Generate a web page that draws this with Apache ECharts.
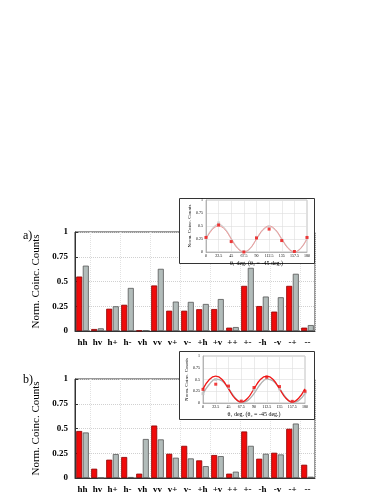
<!DOCTYPE html>
<html>
<head>
<meta charset="utf-8">
<script src="https://cdn.jsdelivr.net/npm/echarts@6/dist/echarts.min.js"></script>
<style>
  html, body { margin: 0; padding: 0; background: #fff; }
  #charts { width: 382px; height: 494px; }
</style>
</head>
<body>
<div id="charts"></div>
<script>
const categories = ["hh", "hv", "h+", "h-", "vh", "vv", "v+", "v-", "+h", "+v", "++", "+-", "-h", "-v", "-+", "--"];
const redA = [0.55, 0.02, 0.225, 0.265, 0.005, 0.46, 0.205, 0.205, 0.22, 0.222, 0.034, 0.456, 0.252, 0.196, 0.456, 0.034];
const greyA = [0.66, 0.027, 0.25, 0.435, 0.005, 0.628, 0.297, 0.294, 0.273, 0.323, 0.04, 0.638, 0.348, 0.341, 0.578, 0.06];
const redB = [0.475, 0.094, 0.185, 0.212, 0.044, 0.53, 0.245, 0.325, 0.178, 0.232, 0.044, 0.47, 0.195, 0.255, 0.497, 0.134];
const greyB = [0.46, 0, 0.242, 0.01, 0.394, 0.39, 0.205, 0.198, 0.12, 0.221, 0.064, 0.325, 0.245, 0.238, 0.55, 0.013];

const angles = [0, 22.5, 45, 67.5, 90, 112.5, 135, 157.5, 180];
const ptsRedA = [0.28, 0.52, 0.2, 0.0, 0.27, 0.44, 0.22, 0.01, 0.28];
const ptsGreyA = [0.27, 0.56, 0.21, 0.01, 0.28, 0.49, 0.23, 0.01, 0.27];
const ptsRedB = [0.29, 0.4, 0.36, 0.04, 0.33, 0.55, 0.35, 0.035, 0.25];
const ptsGreyB = [0.2, 0.5, 0.33, 0.02, 0.28, 0.52, 0.3, 0.02, 0.22];

const curveAngles = [0, 11.25, 22.5, 33.75, 45, 56.25, 67.5, 78.75, 90, 101.25, 112.5, 123.75, 135, 146.25, 157.5, 168.75, 180];
const curveRedA = [0.25, 0.43, 0.5, 0.43, 0.25, 0.07, 0, 0.07, 0.25, 0.43, 0.5, 0.43, 0.25, 0.07, 0, 0.07, 0.25];
const curveGreyA = [0.26, 0.45, 0.53, 0.45, 0.26, 0.08, 0, 0.07, 0.25, 0.42, 0.49, 0.42, 0.25, 0.08, 0, 0.07, 0.26];
const curveRedB = [0.3, 0.5, 0.57, 0.5, 0.3, 0.1, 0.02, 0.1, 0.3, 0.5, 0.57, 0.5, 0.3, 0.1, 0.02, 0.1, 0.3];
const curveGreyB = [0.2, 0.4, 0.51, 0.47, 0.31, 0.12, 0.01, 0.05, 0.2, 0.4, 0.51, 0.47, 0.31, 0.12, 0.01, 0.05, 0.2];

const serif = "'Liberation Serif', 'DejaVu Serif', serif";
const chart = echarts.init(document.getElementById("charts"));

function pairs(xs, ys) {
  return xs.map((x, i) => [x, ys[i]]);
}

function mainX(gridIndex) {
  return {
    type: "category", gridIndex: gridIndex, data: categories,
    axisLine: { lineStyle: { color: "#333" } },
    axisTick: { show: false },
    axisLabel: { color: "#000", fontFamily: serif, fontWeight: "bold", fontSize: 9, margin: 7, interval: 0 },
    splitLine: { show: true, interval: (i) => i % 2 === 1, lineStyle: { color: "#e2e2e2", type: "dotted" } }
  };
}

function mainY(gridIndex) {
  return {
    type: "value", gridIndex: gridIndex, min: 0, max: 1, interval: 0.25,
    name: "Norm. Coinc. Counts", nameLocation: "middle", nameGap: 25,
    nameTextStyle: { fontFamily: serif, fontSize: 11, color: "#000" },
    axisLine: { show: true, lineStyle: { color: "#333" } },
    axisTick: { show: true, inside: true, length: 3, lineStyle: { color: "#333" } },
    axisLabel: { color: "#000", fontFamily: serif, fontWeight: "bold", fontSize: 9, margin: 7 },
    splitLine: { lineStyle: { color: "#d0d0d0", type: "dotted" } }
  };
}

function insetX(gridIndex) {
  return {
    type: "value", gridIndex: gridIndex, min: 0, max: 180, interval: 22.5, z: 60,
    name: "θ₁ deg. (θ₂ = -45 deg.)", nameLocation: "middle", nameGap: 8,
    nameTextStyle: { fontFamily: serif, fontSize: 6, color: "#000" },
    axisLine: { lineStyle: { color: "#888", width: 0.5 } },
    axisTick: { show: false },
    axisLabel: { color: "#000", fontFamily: serif, fontSize: 4, margin: 2 },
    splitLine: { lineStyle: { color: "#ddd", width: 0.6 } }
  };
}

function insetY(gridIndex) {
  return {
    type: "value", gridIndex: gridIndex, min: 0, max: 1, interval: 0.25, z: 60,
    name: "Norm. Coinc. Counts", nameLocation: "middle", nameGap: 14,
    nameTextStyle: { fontFamily: serif, fontSize: 5, color: "#000" },
    axisLine: { show: true, lineStyle: { color: "#888", width: 0.5 } },
    axisTick: { show: false },
    axisLabel: { color: "#000", fontFamily: serif, fontSize: 4, margin: 3 },
    splitLine: { lineStyle: { color: "#ddd", width: 0.6 } }
  };
}

function bars(axisIndex, values, fill, edge) {
  return {
    type: "bar", xAxisIndex: axisIndex, yAxisIndex: axisIndex, data: values,
    barWidth: 6, barGap: "10%",
    itemStyle: { color: fill, borderColor: edge, borderWidth: 0.8 }
  };
}

function curve(axisIndex, values, color, width) {
  return {
    type: "line", xAxisIndex: axisIndex, yAxisIndex: axisIndex, z: 70,
    data: pairs(curveAngles, values), smooth: 0.4, showSymbol: false,
    lineStyle: { color: color, width: width }
  };
}

function points(axisIndex, values, color) {
  return {
    type: "scatter", xAxisIndex: axisIndex, yAxisIndex: axisIndex, z: 72,
    data: pairs(angles, values), symbol: "rect", symbolSize: 3,
    itemStyle: { color: color }
  };
}

const option = {
  animation: false,
  backgroundColor: "#fff",
  grid: [
    { left: 75, top: 232, width: 240, height: 99, show: true, borderColor: "#333", borderWidth: 1 },
    { left: 206, top: 200, width: 101, height: 52, show: true, borderColor: "#999", borderWidth: 0.6, backgroundColor: "#fff", z: 60 },
    { left: 75, top: 379, width: 240, height: 99, show: true, borderColor: "#333", borderWidth: 1 },
    { left: 203, top: 356, width: 102, height: 47, show: true, borderColor: "#999", borderWidth: 0.6, backgroundColor: "#fff", z: 60 }
  ],
  xAxis: [mainX(0), insetX(1), mainX(2), insetX(3)],
  yAxis: [mainY(0), insetY(1), mainY(2), insetY(3)],
  graphic: [
    { type: "rect", z: 50, shape: { x: 179.5, y: 198.5, width: 135, height: 65 }, style: { fill: "#fff", stroke: "#333", lineWidth: 1 } },
    { type: "rect", z: 50, shape: { x: 179.5, y: 351.5, width: 135, height: 68 }, style: { fill: "#fff", stroke: "#333", lineWidth: 1 } },
    { type: "text", left: 23, top: 230, style: { text: "a)", font: "12px " + serif, fill: "#000" } },
    { type: "text", left: 23, top: 374, style: { text: "b)", font: "12px " + serif, fill: "#000" } }
  ],
  series: [
    bars(0, redA, "#f00a0a", "#8a0000"),
    bars(0, greyA, "#b2bcba", "#555"),
    curve(1, curveGreyA, "#cfcfcf", 1.2),
    curve(1, curveRedA, "#f09a9a", 1),
    points(1, ptsGreyA, "#d2d2d2"),
    points(1, ptsRedA, "#f01010"),
    bars(2, redB, "#f00a0a", "#8a0000"),
    bars(2, greyB, "#b2bcba", "#555"),
    curve(3, curveGreyB, "#b0b0b0", 1.3),
    curve(3, curveRedB, "#f01818", 1.3),
    points(3, ptsGreyB, "#c4c4c4"),
    points(3, ptsRedB, "#f01010")
  ]
};

chart.setOption(option);
</script>
</body>
</html>
